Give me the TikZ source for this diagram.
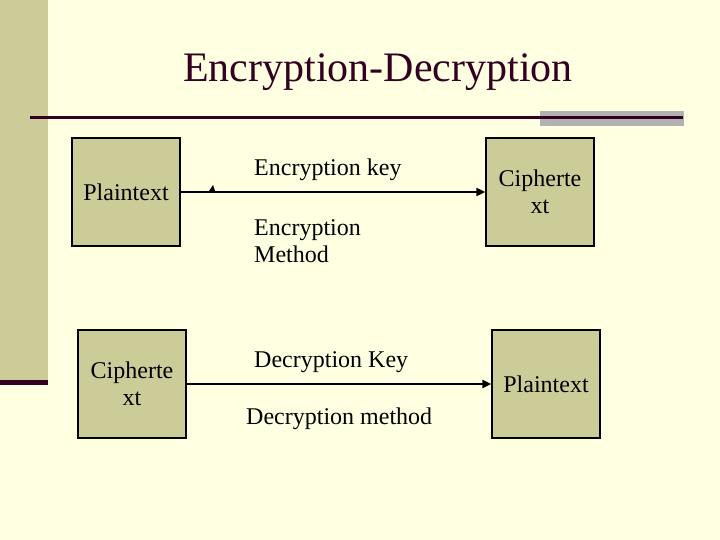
\documentclass[tikz,border=0pt]{standalone}
\usepackage{fontspec}
\setmainfont{Liberation Serif}
\usetikzlibrary{arrows.meta}
\definecolor{bg}{RGB}{255,255,225}
\definecolor{olive}{RGB}{204,204,153}
\definecolor{maroon}{RGB}{51,0,34}
\definecolor{grayband}{RGB}{178,178,178}
\tikzset{
  box/.style={draw=black, line width=1.3pt, fill=olive, minimum width=108pt, minimum height=108pt, inner sep=0pt, align=center, font=\fontsize{24}{27}\selectfont},
  lbl/.style={anchor=base west, inner sep=0pt, font=\fontsize{24}{26}\selectfont},
  conn/.style={line width=2pt, -{Triangle[length=9pt,width=8pt]}}
}
\begin{document}
\begin{tikzpicture}[x=1pt,y=-1pt]
\useasboundingbox (0,0) rectangle (720,540);
\fill[bg] (0,0) rectangle (720,540);
\fill[olive] (0,0) rectangle (48,382);
\fill[maroon] (0,380) rectangle (48,385);
\fill[grayband] (540,111) rectangle (684,126);
\draw[maroon, line width=3pt] (30,117.5) -- (683,117.5);
\node[anchor=base, inner sep=0pt, text=maroon, font=\fontsize{42}{46}\selectfont] (title) at (378,82) {Encryption-Decryption};
\node[box] (p1) at (126,192) {Plaintext};
\node[box] (c1) at (540,192) {Cipherte\\xt};
\node[box] (c2) at (132,384) {Cipherte\\xt};
\node[box] (p2) at (546,384) {Plaintext};
\draw[conn] (p1) -- (c1);
\draw[conn] (c2) -- (p2);
\fill[black] (209,191) -- (215,191) -- (213,185) -- cycle;
\node[lbl] (ek) at (254,176) {Encryption key};
\node[lbl] (em1) at (254,236) {Encryption};
\node[lbl] (em2) at (254,262) {Method};
\node[lbl] (dk) at (254,367) {Decryption Key};
\node[lbl] (dm) at (246,424) {Decryption method};
\end{tikzpicture}
\end{document}
